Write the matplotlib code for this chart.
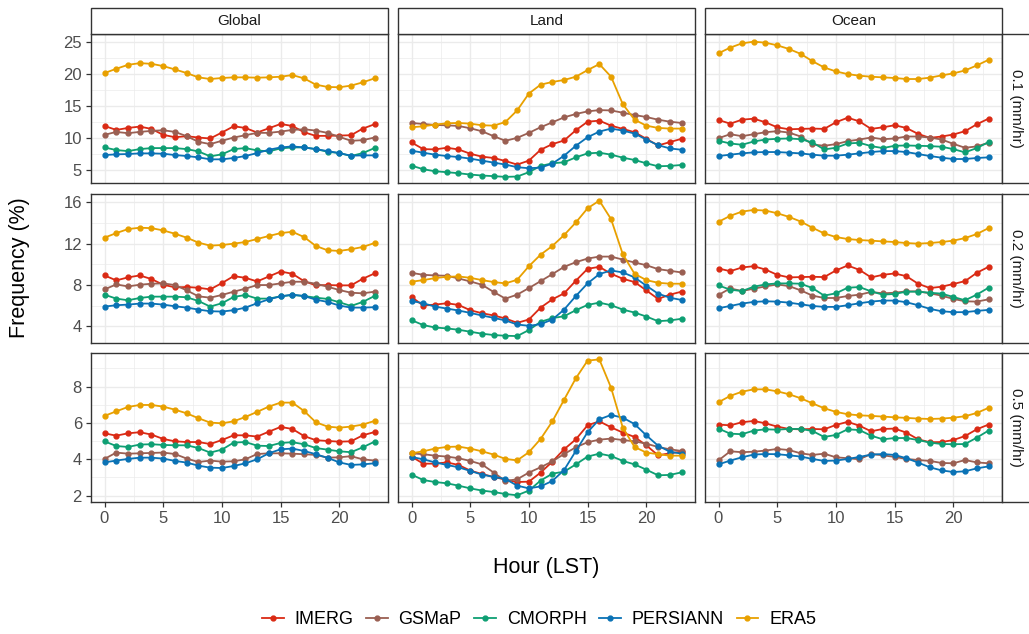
import matplotlib
matplotlib.use("Agg")
import matplotlib.pyplot as plt
from matplotlib.lines import Line2D
from matplotlib.patches import Rectangle

plt.rcParams['font.family'] = ['Liberation Sans', 'DejaVu Sans']

hours = list(range(24))
products = ["IMERG", "GSMaP", "CMORPH", "PERSIANN", "ERA5"]
colors = ["#DA2A14", "#9A5F52", "#0E9F73", "#0A72B5", "#E8A000"]
regions = ["Global", "Land", "Ocean"]
thresholds = ["0.1 (mm/hr)", "0.2 (mm/hr)", "0.5 (mm/hr)"]

# ---- threshold 0.1 mm/hr ----
imerg_global_01 = [11.82, 11.20, 11.51, 11.72, 11.36, 10.43, 10.06, 10.22, 10.01, 9.86, 10.79, 11.77, 11.51, 10.79, 11.46, 12.13, 11.82, 10.84, 10.27, 10.27, 10.32, 10.37, 11.41, 12.08]
gsmap_global_01 = [10.43, 10.89, 10.69, 10.89, 11.05, 11.15, 10.89, 10.22, 9.34, 8.98, 9.50, 10.01, 10.37, 10.74, 10.74, 10.94, 11.20, 11.30, 11.10, 10.74, 10.12, 9.50, 9.60, 10.01]
cmorph_global_01 = [8.46, 8.05, 7.89, 8.20, 8.36, 8.36, 8.36, 8.20, 7.84, 7.07, 7.38, 8.20, 8.36, 8.00, 7.84, 8.31, 8.46, 8.46, 8.20, 7.79, 7.58, 7.12, 7.58, 8.36]
persiann_global_01 = [7.27, 7.38, 7.43, 7.53, 7.53, 7.48, 7.27, 7.12, 6.91, 6.60, 6.60, 6.81, 7.12, 7.58, 8.10, 8.46, 8.62, 8.46, 8.20, 7.89, 7.58, 7.17, 7.22, 7.22]
era5_global_01 = [20.09, 20.76, 21.38, 21.64, 21.54, 21.18, 20.66, 20.09, 19.42, 19.16, 19.32, 19.42, 19.42, 19.37, 19.42, 19.52, 19.78, 19.26, 18.28, 17.92, 17.87, 18.13, 18.64, 19.26]

imerg_land_01 = [9.24, 8.20, 8.15, 8.41, 8.15, 7.48, 7.02, 6.81, 6.34, 5.78, 6.40, 8.10, 8.98, 9.55, 11.15, 12.49, 12.65, 11.87, 11.36, 10.84, 9.81, 8.77, 9.29, 9.81]
gsmap_land_01 = [12.29, 12.13, 11.98, 11.92, 11.82, 11.46, 10.99, 10.22, 9.50, 9.96, 10.74, 11.62, 12.39, 13.17, 13.69, 14.10, 14.30, 14.25, 13.89, 13.53, 13.22, 12.80, 12.49, 12.29]
cmorph_land_01 = [5.62, 5.05, 4.74, 4.59, 4.43, 4.22, 4.07, 3.97, 3.86, 3.91, 4.59, 5.57, 5.98, 6.14, 6.91, 7.53, 7.64, 7.33, 6.86, 6.50, 5.98, 5.52, 5.57, 5.72]
persiann_land_01 = [7.95, 7.64, 7.33, 7.12, 6.96, 6.71, 6.40, 6.09, 5.78, 5.37, 5.21, 5.31, 5.94, 7.17, 8.72, 10.06, 10.94, 11.41, 11.10, 10.63, 9.70, 8.82, 8.31, 8.10]
era5_land_01 = [11.62, 11.77, 12.03, 12.24, 12.29, 12.18, 11.93, 11.87, 12.44, 14.25, 16.89, 18.28, 18.70, 19.01, 19.52, 20.56, 21.49, 19.52, 15.23, 12.80, 11.87, 11.51, 11.41, 11.41]

imerg_ocean_01 = [12.75, 12.18, 12.80, 12.96, 12.39, 11.61, 11.30, 11.36, 11.41, 11.36, 12.39, 13.11, 12.54, 11.36, 11.61, 11.93, 11.51, 10.58, 9.96, 10.17, 10.48, 11.00, 12.08, 12.96]
gsmap_ocean_01 = [9.91, 10.53, 10.22, 10.53, 10.84, 11.00, 10.79, 10.17, 8.93, 8.72, 8.98, 9.44, 9.70, 10.01, 9.75, 9.86, 10.17, 10.17, 10.01, 9.70, 9.03, 8.41, 8.62, 9.19]
cmorph_ocean_01 = [9.50, 9.08, 8.88, 9.39, 9.70, 9.81, 9.86, 9.75, 9.24, 8.15, 8.41, 9.08, 9.19, 8.67, 8.36, 8.72, 8.77, 8.72, 8.67, 8.57, 8.20, 7.69, 8.36, 9.29]
persiann_ocean_01 = [7.12, 7.33, 7.53, 7.69, 7.74, 7.74, 7.64, 7.53, 7.33, 7.17, 7.17, 7.33, 7.53, 7.74, 7.89, 7.89, 7.74, 7.43, 7.12, 6.86, 6.65, 6.65, 6.81, 6.91]
era5_ocean_01 = [23.19, 24.07, 24.74, 25.00, 24.84, 24.43, 23.86, 23.09, 21.95, 20.97, 20.35, 19.93, 19.68, 19.52, 19.42, 19.32, 19.16, 19.16, 19.37, 19.73, 20.04, 20.50, 21.28, 22.16]

# ---- threshold 0.2 mm/hr ----
imerg_global_02 = [8.93, 8.45, 8.74, 8.93, 8.58, 8.03, 7.78, 7.81, 7.74, 7.58, 8.19, 8.86, 8.70, 8.35, 8.83, 9.31, 9.09, 8.38, 7.97, 8.00, 7.97, 7.97, 8.61, 9.12]
gsmap_global_02 = [7.58, 8.06, 7.87, 8.03, 8.13, 8.16, 8.00, 7.49, 6.91, 6.78, 7.04, 7.36, 7.65, 8.00, 8.00, 8.16, 8.32, 8.32, 8.13, 7.84, 7.52, 7.26, 7.20, 7.36]
cmorph_global_02 = [7.07, 6.69, 6.53, 6.75, 6.88, 6.88, 6.88, 6.82, 6.46, 5.92, 6.24, 6.85, 7.04, 6.69, 6.69, 6.91, 7.04, 6.94, 6.78, 6.66, 6.34, 5.98, 6.37, 6.94]
persiann_global_02 = [5.92, 6.05, 6.11, 6.21, 6.21, 6.11, 5.95, 5.82, 5.63, 5.47, 5.44, 5.57, 5.82, 6.24, 6.62, 6.91, 7.07, 6.94, 6.59, 6.37, 6.02, 5.82, 5.82, 5.86]
era5_global_02 = [12.58, 13.02, 13.41, 13.54, 13.50, 13.28, 12.96, 12.58, 12.10, 11.81, 11.87, 12.00, 12.16, 12.45, 12.74, 13.02, 13.15, 12.64, 11.78, 11.36, 11.30, 11.46, 11.68, 12.06]

imerg_land_02 = [6.85, 6.02, 6.11, 6.24, 6.08, 5.57, 5.28, 5.06, 4.77, 4.35, 4.67, 5.82, 6.62, 7.20, 8.42, 9.57, 9.76, 9.09, 8.61, 8.29, 7.49, 6.66, 7.07, 7.36]
gsmap_land_02 = [9.18, 8.99, 8.93, 8.90, 8.64, 8.35, 8.03, 7.33, 6.69, 7.07, 7.71, 8.38, 9.06, 9.76, 10.21, 10.56, 10.75, 10.75, 10.46, 10.18, 9.92, 9.54, 9.38, 9.22]
cmorph_land_02 = [4.61, 4.13, 3.90, 3.81, 3.68, 3.49, 3.30, 3.17, 3.10, 3.07, 3.65, 4.45, 4.80, 4.99, 5.57, 6.08, 6.30, 6.05, 5.63, 5.34, 4.96, 4.51, 4.58, 4.74]
persiann_land_02 = [6.46, 6.24, 5.92, 5.73, 5.54, 5.31, 5.06, 4.83, 4.58, 4.19, 4.06, 4.22, 4.67, 5.63, 6.94, 8.16, 9.06, 9.41, 9.22, 8.74, 7.94, 7.17, 6.78, 6.56]
era5_land_02 = [8.32, 8.48, 8.67, 8.80, 8.83, 8.70, 8.48, 8.29, 8.16, 8.51, 9.82, 10.94, 11.78, 12.83, 14.05, 15.42, 16.16, 14.37, 10.98, 9.09, 8.48, 8.22, 8.13, 8.13]

imerg_ocean_02 = [9.60, 9.34, 9.70, 9.82, 9.50, 8.99, 8.74, 8.77, 8.80, 8.77, 9.41, 9.89, 9.47, 8.74, 8.99, 9.12, 8.86, 8.13, 7.71, 7.84, 8.10, 8.38, 9.18, 9.76]
gsmap_ocean_02 = [7.04, 7.68, 7.42, 7.65, 7.87, 8.06, 7.90, 7.49, 6.98, 6.75, 6.75, 6.94, 7.07, 7.33, 7.20, 7.26, 7.39, 7.39, 7.20, 6.98, 6.66, 6.43, 6.40, 6.62]
cmorph_ocean_02 = [7.97, 7.55, 7.42, 7.84, 8.06, 8.16, 8.16, 8.13, 7.71, 6.98, 7.20, 7.74, 7.81, 7.39, 7.07, 7.14, 7.36, 7.36, 7.26, 7.17, 6.85, 6.53, 7.07, 7.74]
persiann_ocean_02 = [5.76, 5.98, 6.21, 6.37, 6.43, 6.40, 6.30, 6.14, 5.98, 5.89, 5.89, 6.05, 6.24, 6.40, 6.50, 6.50, 6.34, 6.05, 5.70, 5.47, 5.38, 5.38, 5.50, 5.60]
era5_ocean_02 = [14.11, 14.69, 15.10, 15.26, 15.20, 14.94, 14.59, 14.14, 13.54, 12.99, 12.64, 12.45, 12.35, 12.29, 12.22, 12.16, 12.06, 12.00, 12.06, 12.16, 12.29, 12.54, 12.93, 13.50]

# ---- threshold 0.5 mm/hr ----
imerg_global_05 = [5.43, 5.30, 5.43, 5.49, 5.36, 5.12, 4.99, 4.95, 4.95, 4.84, 5.06, 5.32, 5.32, 5.25, 5.52, 5.78, 5.67, 5.28, 5.05, 5.01, 4.97, 4.99, 5.32, 5.50]
gsmap_global_05 = [4.02, 4.37, 4.31, 4.33, 4.35, 4.37, 4.29, 4.04, 3.85, 3.93, 3.87, 3.89, 4.00, 4.29, 4.33, 4.33, 4.31, 4.28, 4.24, 4.09, 4.11, 4.17, 4.00, 3.93]
cmorph_global_05 = [4.99, 4.73, 4.68, 4.81, 4.83, 4.79, 4.77, 4.77, 4.62, 4.37, 4.53, 4.92, 4.95, 4.75, 4.73, 4.90, 4.94, 4.83, 4.62, 4.53, 4.44, 4.39, 4.66, 4.97]
persiann_global_05 = [3.83, 3.93, 4.02, 4.09, 4.09, 4.04, 3.91, 3.82, 3.65, 3.54, 3.52, 3.63, 3.78, 4.00, 4.33, 4.55, 4.59, 4.46, 4.28, 4.08, 3.83, 3.69, 3.72, 3.78]
era5_global_05 = [6.39, 6.64, 6.88, 6.99, 6.99, 6.90, 6.73, 6.53, 6.26, 6.02, 5.98, 6.09, 6.33, 6.61, 6.90, 7.12, 7.12, 6.66, 6.04, 5.80, 5.74, 5.80, 5.91, 6.11]

imerg_land_05 = [4.15, 3.76, 3.76, 3.83, 3.69, 3.38, 3.19, 3.03, 2.88, 2.75, 2.77, 3.27, 3.87, 4.55, 5.10, 5.87, 6.09, 5.76, 5.47, 5.23, 4.77, 4.22, 4.33, 4.42]
gsmap_land_05 = [4.33, 4.28, 4.20, 4.15, 4.06, 3.91, 3.72, 3.27, 2.81, 2.90, 3.27, 3.56, 3.89, 4.29, 4.66, 4.94, 5.08, 5.14, 5.06, 4.99, 4.86, 4.68, 4.55, 4.46]
cmorph_land_05 = [3.16, 2.86, 2.75, 2.68, 2.55, 2.40, 2.28, 2.20, 2.09, 2.02, 2.28, 2.83, 3.21, 3.32, 3.72, 4.15, 4.31, 4.18, 3.91, 3.72, 3.43, 3.12, 3.14, 3.28]
persiann_land_05 = [4.13, 4.00, 3.83, 3.69, 3.56, 3.36, 3.16, 3.03, 2.92, 2.55, 2.40, 2.51, 2.81, 3.41, 4.46, 5.49, 6.20, 6.44, 6.29, 5.94, 5.32, 4.75, 4.42, 4.31]
era5_land_05 = [4.33, 4.44, 4.59, 4.68, 4.70, 4.59, 4.44, 4.26, 4.02, 3.94, 4.39, 5.12, 6.09, 7.28, 8.46, 9.43, 9.50, 7.94, 5.74, 4.68, 4.37, 4.28, 4.20, 4.20]

imerg_ocean_05 = [5.91, 5.87, 6.04, 6.11, 5.98, 5.80, 5.67, 5.65, 5.67, 5.65, 5.89, 6.06, 5.85, 5.54, 5.67, 5.69, 5.47, 5.10, 4.94, 4.95, 5.06, 5.28, 5.65, 5.91]
gsmap_ocean_05 = [3.94, 4.44, 4.39, 4.42, 4.48, 4.57, 4.51, 4.33, 4.24, 4.31, 4.11, 4.06, 4.00, 4.29, 4.22, 4.13, 4.02, 3.96, 3.91, 3.80, 3.78, 3.96, 3.83, 3.78]
cmorph_ocean_05 = [5.69, 5.41, 5.38, 5.58, 5.65, 5.63, 5.67, 5.67, 5.56, 5.23, 5.34, 5.65, 5.61, 5.30, 5.10, 5.17, 5.17, 5.06, 4.92, 4.84, 4.83, 4.84, 5.19, 5.58]
persiann_ocean_05 = [3.72, 3.93, 4.11, 4.26, 4.29, 4.28, 4.22, 4.15, 4.02, 3.91, 3.93, 4.02, 4.13, 4.26, 4.29, 4.24, 4.06, 3.82, 3.56, 3.39, 3.30, 3.34, 3.50, 3.61]
era5_ocean_05 = [7.14, 7.49, 7.72, 7.85, 7.85, 7.74, 7.58, 7.36, 7.08, 6.81, 6.61, 6.48, 6.42, 6.39, 6.35, 6.31, 6.28, 6.24, 6.22, 6.24, 6.29, 6.37, 6.55, 6.83]

# panel table: (row, col) -> list of series in product order
panels = {
    (0, 0): [imerg_global_01, gsmap_global_01, cmorph_global_01, persiann_global_01, era5_global_01],
    (0, 1): [imerg_land_01, gsmap_land_01, cmorph_land_01, persiann_land_01, era5_land_01],
    (0, 2): [imerg_ocean_01, gsmap_ocean_01, cmorph_ocean_01, persiann_ocean_01, era5_ocean_01],
    (1, 0): [imerg_global_02, gsmap_global_02, cmorph_global_02, persiann_global_02, era5_global_02],
    (1, 1): [imerg_land_02, gsmap_land_02, cmorph_land_02, persiann_land_02, era5_land_02],
    (1, 2): [imerg_ocean_02, gsmap_ocean_02, cmorph_ocean_02, persiann_ocean_02, era5_ocean_02],
    (2, 0): [imerg_global_05, gsmap_global_05, cmorph_global_05, persiann_global_05, era5_global_05],
    (2, 1): [imerg_land_05, gsmap_land_05, cmorph_land_05, persiann_land_05, era5_land_05],
    (2, 2): [imerg_ocean_05, gsmap_ocean_05, cmorph_ocean_05, persiann_ocean_05, era5_ocean_05],
}

row_ylims = [(2.9, 26.2), (2.4, 16.8), (1.65, 9.85)]
row_yticks = [[5, 10, 15, 20, 25], [4, 8, 12, 16], [2, 4, 6, 8]]
row_yminor = [[7.5, 12.5, 17.5, 22.5], [6, 10, 14], [3, 5, 7, 9]]
xticks = [0, 5, 10, 15, 20]
xminor = [2.5, 7.5, 12.5, 17.5, 22.5]

W, H = 1029, 634
fig = plt.figure(figsize=(W / 100, H / 100), dpi=100)

col_left = [91, 398, 705]
row_top = [34, 194, 353]
pw, ph = 297, 149
border = "#333333"
grid_c = "#EBEBEB"


def fx(px):
    return px / W


def fy(py):
    return 1 - py / H


for (r, c), series in panels.items():
    ax = fig.add_axes([fx(col_left[c]), fy(row_top[r] + ph), fx(pw), ph / H])
    for name, col, vals in zip(products, colors, series):
        ax.plot(hours, vals, color=col, lw=1.3, marker="o", ms=3.5, label=name)
    ax.set_xlim(-1.15, 24.15)
    ax.set_ylim(*row_ylims[r])
    ax.set_xticks(xticks)
    ax.set_xticks(xminor, minor=True)
    ax.set_yticks(row_yticks[r])
    ax.set_yticks(row_yminor[r], minor=True)
    ax.grid(True, which="major", color=grid_c, lw=1.0)
    ax.grid(True, which="minor", color=grid_c, lw=0.5)
    ax.set_axisbelow(True)
    for s in ax.spines.values():
        s.set_color(border)
        s.set_linewidth(1.0)
    ax.tick_params(which="minor", length=0)
    ax.tick_params(which="major", length=3.5, width=0.9, color=border,
                   labelsize=12, labelcolor="#4D4D4D", pad=3)
    if c != 0:
        ax.tick_params(axis="y", which="major", length=0, labelleft=False)
    if r != 2:
        ax.tick_params(axis="x", which="major", length=0, labelbottom=False)

# top strips
for c, name in enumerate(regions):
    fig.patches.append(Rectangle((fx(col_left[c]), fy(34)), fx(pw), 26 / H,
                                 transform=fig.transFigure, facecolor="white",
                                 edgecolor=border, lw=1.0))
    fig.text(fx(col_left[c] + pw / 2), fy(21), name, ha="center", va="center",
             fontsize=11, color="#1A1A1A")

# right strips
for r, name in enumerate(thresholds):
    fig.patches.append(Rectangle((fx(1002), fy(row_top[r] + ph)), fx(30), ph / H,
                                 transform=fig.transFigure, facecolor="white",
                                 edgecolor=border, lw=1.0))
    fig.text(fx(1016), fy(row_top[r] + ph / 2), name, ha="center", va="center",
             rotation=-90, fontsize=11, color="#1A1A1A")

fig.text(fx(546), fy(567), "Hour (LST)", ha="center", va="center", fontsize=15.5)
fig.text(fx(20), fy(268), "Frequency (%)", ha="center", va="center",
         rotation=90, fontsize=15.5)

handles = [Line2D([], [], color=col, lw=1.3, marker="o", ms=3.5) for col in colors]
fig.legend(handles, products, ncol=5, loc="center",
           bbox_to_anchor=(fx(539), fy(620)), frameon=False, fontsize=13,
           handlelength=1.2, handletextpad=0.6, columnspacing=0.7)

fig.savefig("out.png", dpi=100)
